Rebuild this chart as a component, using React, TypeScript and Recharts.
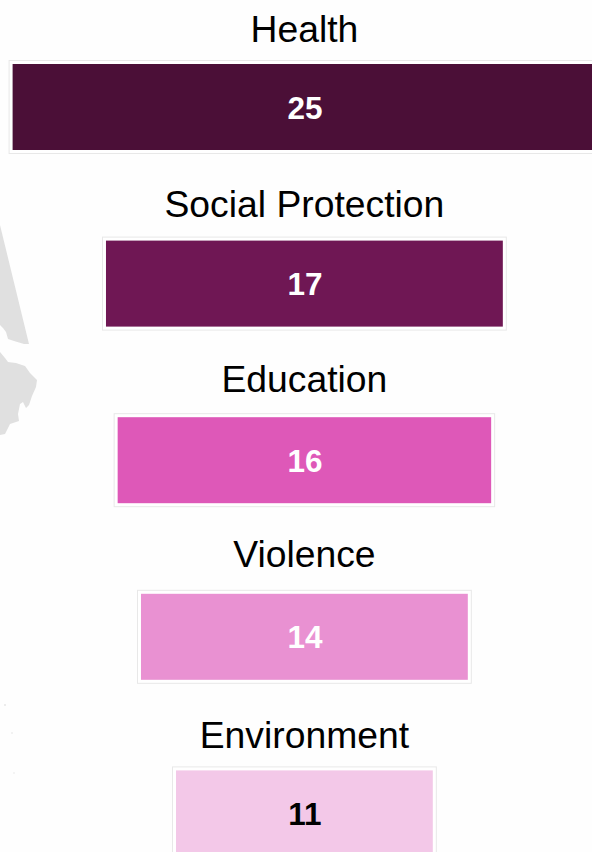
import { Bar, BarChart, LabelList, XAxis, YAxis } from 'recharts';

const topics = ['Health', 'Social Protection', 'Education', 'Violence', 'Environment'];
const counts = [25, 17, 16, 14, 11];
const barColors = ['#4b0f37', '#6f1754', '#de58b8', '#e991d2', '#f3c8e8'];
const valueColors = ['#ffffff', '#ffffff', '#ffffff', '#ffffff', '#000000'];
// the titles do not sit at a constant distance above their bars
const titleGaps = [22, 24, 25, 27, 22];

const chartData = topics.map((topic, i) => ({ topic, count: counts[i] }));
const fontFamily = '"Liberation Sans", Arial, sans-serif';

// centred bars: every bar runs from -count/2 to +count/2
const centredRange = (row: { count: number }) => [-row.count / 2, row.count / 2];

function FramedBar(props: any) {
  const { x, y, width, height, index } = props;
  return (
    <g>
      <rect
        x={x - 3.5}
        y={y - 3.5}
        width={width + 7}
        height={height + 7}
        fill="#ffffff"
        stroke="#e8e8e8"
        strokeWidth={1}
      />
      <rect x={x} y={y} width={width} height={height} fill={barColors[index]} />
    </g>
  );
}

function TopicLabel(props: any) {
  const { x, y, width, value, index } = props;
  return (
    <text
      x={x + width / 2}
      y={y - titleGaps[index]}
      textAnchor="middle"
      fontSize={37.3}
      fill="#000000"
      fontFamily={fontFamily}
    >
      {value}
    </text>
  );
}

function CountLabel(props: any) {
  const { x, y, width, height, value, index } = props;
  return (
    <text
      x={x + width / 2 + 0.5}
      y={y + height / 2 + 11.5}
      textAnchor="middle"
      fontSize={31.5}
      fontWeight="bold"
      fill={valueColors[index]}
      fontFamily={fontFamily}
    >
      {value}
    </text>
  );
}

export default function App() {
  return (
    <div style={{ position: 'fixed', left: 0, top: 0, width: 592, height: 852, overflow: 'hidden', background: '#fefefe' }}>
      {/* faint map behind the chart */}
      <svg width={592} height={852} style={{ position: 'absolute', left: 0, top: 0 }}>
        <path d="M0 225 L29 344 L24 344 L14 341 L8 339 L6 332 L3 328 L0 325 Z" fill="#e0e0e0" />
        <path
          d="M0 352 L5 358 L8 362 L16 363 L25 366 L30 373 L37 380 L36 387 L32 396 L29 405 L26 408 L23 402 L20 404 L18 414 L19 421 L10 424 L7 430 L5 434 L0 435 Z"
          fill="#e0e0e0"
        />
        <circle cx={5} cy={705} r={1} fill="#e6e6e6" />
        <circle cx={12} cy={733} r={1} fill="#eeeeee" />
        <circle cx={14} cy={773} r={1} fill="#f0f0f0" />
      </svg>
      <div style={{ position: 'absolute', left: 0, top: 0 }}>
        <BarChart
          layout="vertical"
          width={592}
          height={902}
          data={chartData}
          margin={{ top: 19, right: 0, bottom: 0, left: 0 }}
        >
          <XAxis type="number" hide domain={[-13.04, 12.32]} allowDataOverflow />
          <YAxis type="category" dataKey="topic" hide />
          <Bar dataKey={centredRange} barSize={86} shape={FramedBar} isAnimationActive={false}>
            <LabelList dataKey="topic" content={TopicLabel} />
            <LabelList dataKey="count" content={CountLabel} />
          </Bar>
        </BarChart>
      </div>
    </div>
  );
}
